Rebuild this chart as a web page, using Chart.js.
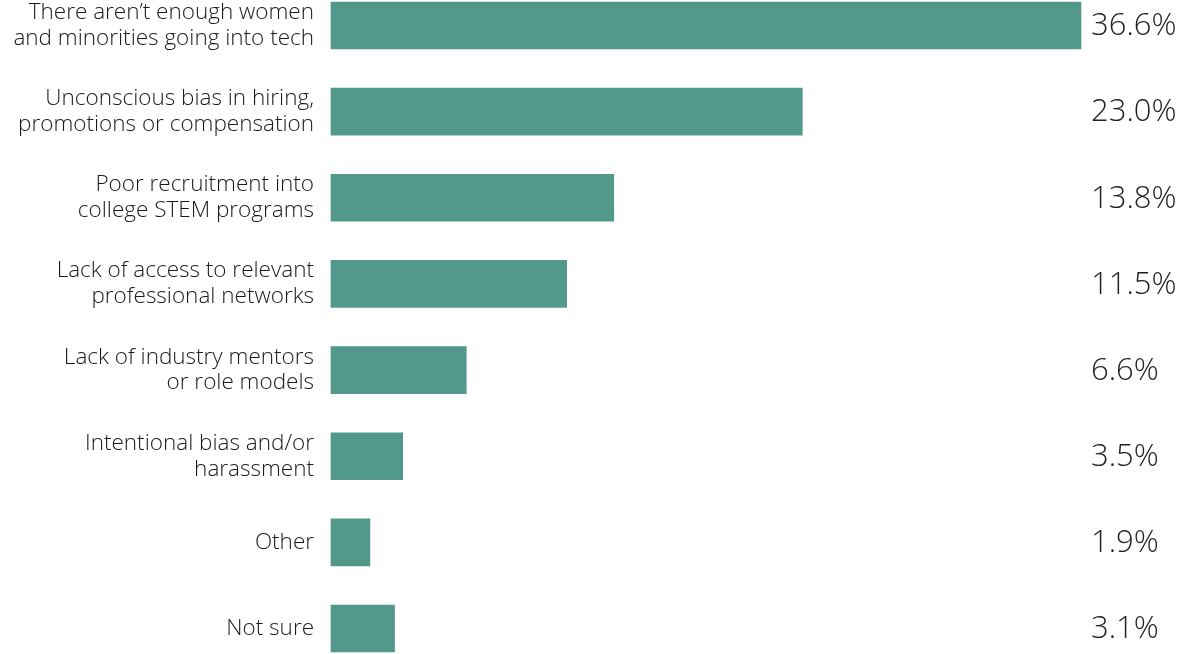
<!DOCTYPE html>
<html>
<head>
<meta charset="utf-8">
<script src="https://cdn.jsdelivr.net/npm/chart.js@4.4.1/dist/chart.umd.min.js"></script>
<style>
  html, body { margin: 0; padding: 0; background: #fff; }
  #wrap { width: 1181px; height: 654px; }
</style>
</head>
<body>
<div id="wrap"><canvas id="myChart" width="1181" height="654"></canvas></div>
<script>
var categories = [
    ["There aren\u2019t enough women", "and minorities going into tech"],
    ["Unconscious bias in hiring,", "promotions or compensation"],
    ["Poor recruitment into", "college STEM programs"],
    ["Lack of access to relevant", "professional networks"],
    ["Lack of industry mentors", "or role models"],
    ["Intentional bias and/or", "harassment"],
    "Other",
    "Not sure"
];
var shares = [36.6, 23.0, 13.8, 11.5, 6.6, 3.5, 1.9, 3.1];
var valueLabels = ["36.6%", "23.0%", "13.8%", "11.5%", "6.6%", "3.5%", "1.9%", "3.1%"];

// draw the percentages in a fixed column right of the bars
var valuePlugin = {
    id: 'valueColumn',
    afterDatasetsDraw: function(chart) {
        var ctx = chart.ctx;
        var meta = chart.getDatasetMeta(0);
        ctx.save();
        ctx.font = '300 31px "Open Sans"';
        ctx.fillStyle = '#222';
        ctx.textAlign = 'left';
        ctx.textBaseline = 'middle';
        for (var i = 0; i < meta.data.length; i++) {
            ctx.fillText(valueLabels[i], chart.chartArea.right + 10, meta.data[i].y + 1);
        }
        ctx.restore();
    }
};

var ctx = document.getElementById('myChart').getContext('2d');
var chart = new Chart(ctx, {
    type: 'bar',
    data: {
        labels: categories,
        datasets: [{
            data: shares,
            backgroundColor: '#52998c',
            barThickness: 47,
            clip: false
        }]
    },
    options: {
        indexAxis: 'y',
        responsive: false,
        animation: false,
        layout: { padding: { top: 25.5, bottom: 25.5, right: 100, left: 0 } },
        plugins: {
            legend: { display: false },
            tooltip: { enabled: false }
        },
        scales: {
            x: {
                min: 0,
                max: 36.6,
                display: false
            },
            y: {
                offset: false,
                grid: { display: false, drawTicks: false },
                border: { display: false },
                afterFit: function(scale) {
                    scale.width = 331;
                    scale.paddingTop = 0;
                    scale.paddingBottom = 0;
                },
                ticks: {
                    color: '#1a1a1a',
                    padding: 17,
                    font: { family: 'Open Sans', size: 22.5, weight: '300', lineHeight: 1.15 }
                }
            }
        }
    },
    plugins: [valuePlugin]
});
</script>
</body>
</html>
